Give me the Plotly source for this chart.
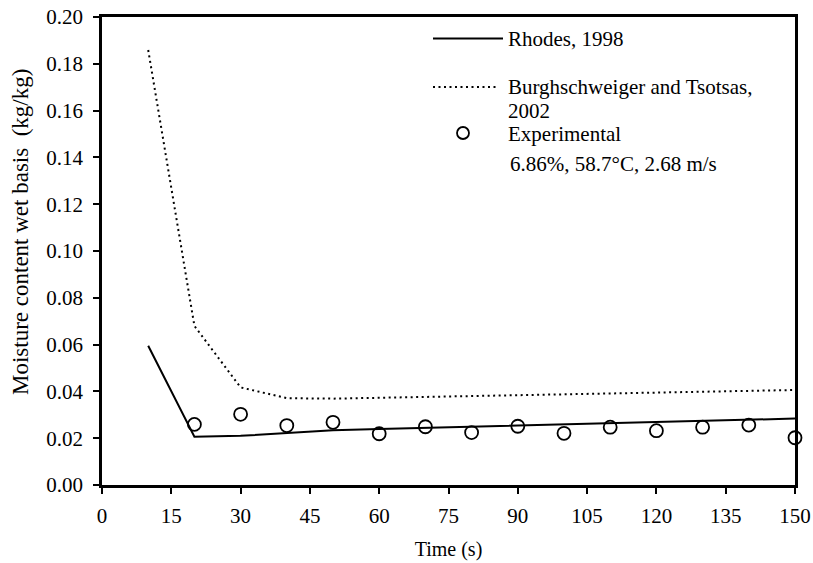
import plotly.graph_objects as go

# ---- data ----
time_model = [10, 20, 30, 40, 50, 60, 70, 80, 90, 100, 110, 120, 130, 140, 150]
rhodes_1998 = [0.0595, 0.0206, 0.0210, 0.0223, 0.0234, 0.0239, 0.0244, 0.0249,
               0.0254, 0.0259, 0.0264, 0.0269, 0.0274, 0.0279, 0.0284]
burgh_tsotsas_2002 = [0.1859, 0.0680, 0.0417, 0.0371, 0.0369, 0.0373, 0.0377, 0.0380,
                      0.0384, 0.0388, 0.0391, 0.0395, 0.0398, 0.0402, 0.0406]
time_exp = [20, 30, 40, 50, 60, 70, 80, 90, 100, 110, 120, 130, 140, 150]
experimental = [0.0259, 0.0302, 0.0254, 0.0268, 0.0219, 0.0249, 0.0224, 0.0251,
                0.0221, 0.0247, 0.0232, 0.0247, 0.0256, 0.0202]
x_ticks = [0, 15, 30, 45, 60, 75, 90, 105, 120, 135, 150]
y_ticks = [0.00, 0.02, 0.04, 0.06, 0.08, 0.10, 0.12, 0.14, 0.16, 0.18, 0.20]

FONT = "Liberation Serif"
W, H = 813, 563
L, R, T, B = 102, 18, 17, 78
PW, PH = W - L - R, H - T - B


def px(xp):
    return (xp - L) / PW


def py(yp):
    return (H - B - yp) / PH


fig = go.Figure()
fig.add_trace(go.Scatter(x=time_model, y=burgh_tsotsas_2002, mode="lines",
                         line=dict(color="black", width=2, dash="2px,3.5px"),
                         name="Burghschweiger and Tsotsas, 2002", showlegend=False))
fig.add_trace(go.Scatter(x=time_model, y=rhodes_1998, mode="lines",
                         line=dict(color="black", width=2),
                         name="Rhodes, 1998", showlegend=False))
fig.add_trace(go.Scatter(x=time_exp, y=experimental, mode="markers",
                         marker=dict(symbol="circle-open", size=13,
                                     color="black", line=dict(width=1.8)),
                         name="Experimental", showlegend=False, cliponaxis=False))

# legend drawn in paper coordinates
shapes = [
    dict(type="line", xref="paper", yref="paper", x0=px(433), x1=px(503),
         y0=py(38.5), y1=py(38.5), line=dict(color="black", width=2)),
    dict(type="line", xref="paper", yref="paper", x0=px(433), x1=px(496),
         y0=py(87), y1=py(87), line=dict(color="black", width=2, dash="2px,3.5px")),
    dict(type="circle", xref="paper", yref="paper", x0=px(457), x1=px(469),
         y0=py(127), y1=py(139), line=dict(color="black", width=1.8)),
]
ann_font = dict(family=FONT, size=21, color="black")


def leg_text(text, xp, yp):
    return dict(text=text, x=px(xp), y=py(yp), xref="paper", yref="paper",
                xanchor="left", yanchor="middle", showarrow=False, font=ann_font,
                borderpad=0)


annotations = [
    leg_text("Rhodes, 1998", 507, 39),
    leg_text("Burghschweiger and Tsotsas,", 507, 87),
    leg_text("2002", 507, 111),
    leg_text("Experimental", 507, 134),
    leg_text("6.86%, 58.7°C, 2.68 m/s", 509, 164),
    dict(text="Moisture content wet basis  (kg/kg)", x=px(20), y=py(232),
         xref="paper", yref="paper", xanchor="center", yanchor="middle",
         textangle=-90, showarrow=False, font=dict(family=FONT, size=23, color="black")),
]

fig.update_layout(
    width=W, height=H,
    margin=dict(l=L, r=R, t=T, b=B, pad=0, autoexpand=False),
    paper_bgcolor="white", plot_bgcolor="white",
    font=dict(family=FONT, size=19, color="black"),
    shapes=shapes, annotations=annotations,
    showlegend=False,
)
axis_common = dict(showgrid=False, zeroline=False, showline=True, linecolor="black",
                   linewidth=2.5, mirror=True, ticks="outside", ticklen=6, tickwidth=2,
                   tickcolor="black", automargin=False,
                   tickfont=dict(family=FONT, size=21, color="black"))
fig.update_xaxes(range=[0, 150], tickvals=x_ticks, ticktext=[str(v) for v in x_ticks],
                 ticklabelstandoff=4,
                 title=dict(text="Time (s)", font=dict(family=FONT, size=20), standoff=16),
                 **axis_common)
fig.update_yaxes(range=[0, 0.2], tickvals=y_ticks, ticktext=[f"{v:.2f}" for v in y_ticks],
                 ticklabelstandoff=6,
                 **axis_common)

fig.write_html("out.html")
